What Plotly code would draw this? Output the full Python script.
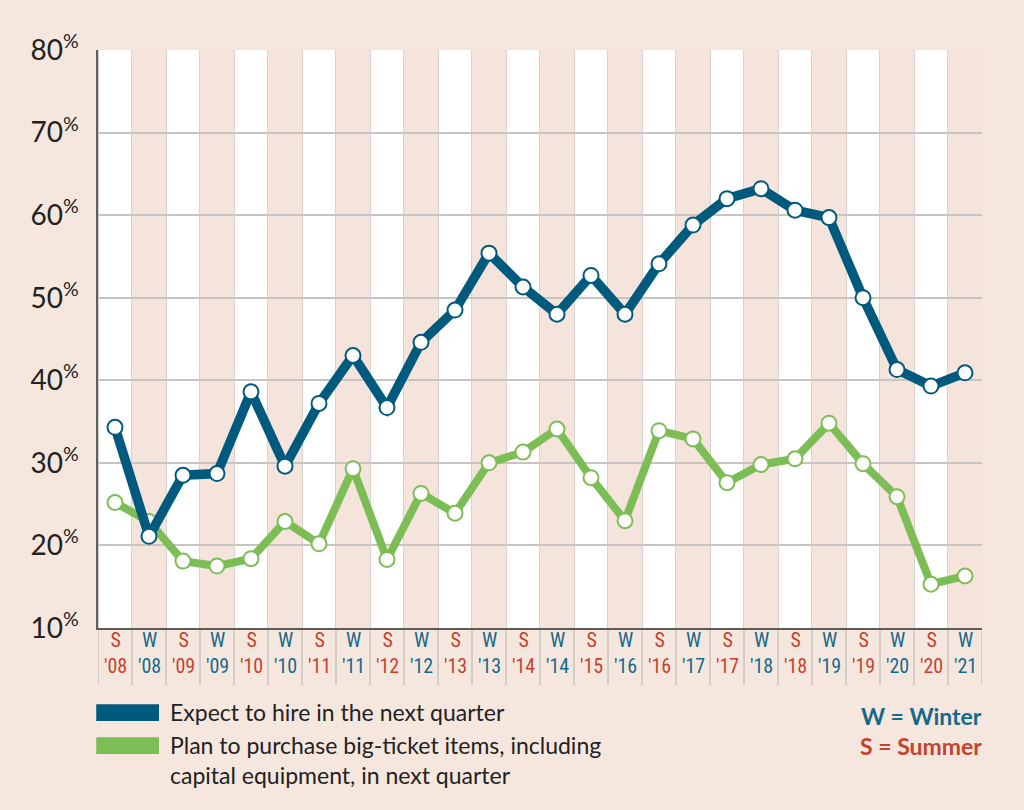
import plotly.graph_objects as go

seasons = ["S", "W", "S", "W", "S", "W", "S", "W", "S", "W", "S", "W", "S",
           "W", "S", "W", "S", "W", "S", "W", "S", "W", "S", "W", "S", "W"]
years = ["'08", "'08", "'09", "'09", "'10", "'10", "'11", "'11", "'12", "'12",
         "'13", "'13", "'14", "'14", "'15", "'16", "'16", "'17", "'17", "'18",
         "'18", "'19", "'19", "'20", "'20", "'21"]
hire = [34.3, 21.1, 28.5, 28.7, 38.6, 29.6, 37.2, 43.0, 36.7, 44.6, 48.5, 55.4, 51.3,
        48.0, 52.7, 48.0, 54.1, 58.8, 62.0, 63.2, 60.6, 59.7, 50.0, 41.3, 39.3, 40.9]
purchase = [25.2, 22.9, 18.1, 17.5, 18.4, 22.9, 20.2, 29.3, 18.3, 26.3, 23.9, 30.0, 31.3,
            34.1, 28.2, 23.0, 33.9, 32.9, 27.6, 29.8, 30.5, 34.8, 29.9, 25.9, 15.3, 16.3]
y_ticks = [10, 20, 30, 40, 50, 60, 70, 80]

BLUE = "#005a7d"
GREEN = "#7dbd55"
BG = "#f6e7de"
PINK = "#f5e4dc"
GRID = "#c9c3c1"
RED_TXT = "#c5432e"
BLUE_TXT = "#17698b"
TICK_FONT = "Liberation Sans Narrow, Roboto Condensed, Lato"

cats = [f"{s} {y}" for s, y in zip(seasons, years)]

fig = go.Figure()
fig.add_trace(go.Scatter(
    x=cats, y=purchase, mode="lines+markers",
    line=dict(color=GREEN, width=8),
    marker=dict(size=15, color="white", line=dict(color=GREEN, width=2)),
    name="Plan to purchase big-ticket items", showlegend=False))
fig.add_trace(go.Scatter(
    x=cats, y=hire, mode="lines+markers",
    line=dict(color=BLUE, width=9.5),
    marker=dict(size=15, color="white", line=dict(color=BLUE, width=2)),
    name="Expect to hire", showlegend=False))

shapes = []
# pink columns for winter periods
for i, s in enumerate(seasons):
    if s == "W":
        shapes.append(dict(type="rect", xref="x", yref="y", x0=i - 0.5, x1=i + 0.5,
                           y0=y_ticks[0], y1=y_ticks[-1], fillcolor=PINK,
                           line=dict(width=0), layer="below"))
# column separators extending below the axis
for i in range(len(cats) + 1):
    shapes.append(dict(type="line", xref="x", yref="paper", x0=i - 0.5, x1=i - 0.5,
                       y0=-0.099, y1=1, line=dict(color=GRID, width=1.5), layer="below"))
# legend swatches
shapes.append(dict(type="rect", xref="paper", yref="paper", x0=-0.002, x1=0.069,
                   y0=-0.132, y1=-0.161, fillcolor=BLUE, line=dict(width=0)))
shapes.append(dict(type="rect", xref="paper", yref="paper", x0=-0.002, x1=0.069,
                   y0=-0.189, y1=-0.218, fillcolor=GREEN, line=dict(width=0)))

annotations = []
# two-line category labels (season letter over year)
for c, s, y in zip(cats, seasons, years):
    col = RED_TXT if s == "S" else BLUE_TXT
    annotations.append(dict(xref="x", yref="paper", x=c, y=-0.043, text=f"{s}<br>{y}",
                            showarrow=False, xanchor="center", yanchor="middle",
                            font=dict(family=TICK_FONT, size=20, color=col)))

annotations += [
    dict(xref="paper", yref="paper", x=0.079, y=-0.146, xanchor="left", yanchor="middle",
         text="Expect to hire in the next quarter", showarrow=False,
         font=dict(family="Lato", size=23, color="#222222")),
    dict(xref="paper", yref="paper", x=0.079, y=-0.229, xanchor="left", yanchor="middle",
         text="Plan to purchase big-ticket items, including<br>capital equipment, in next quarter",
         showarrow=False, align="left",
         font=dict(family="Lato", size=23, color="#222222")),
    dict(xref="paper", yref="paper", x=1.002, y=-0.152, xanchor="right", yanchor="middle",
         text="<b>W = Winter</b>", showarrow=False,
         font=dict(family="Lato", size=23, color=BLUE_TXT)),
    dict(xref="paper", yref="paper", x=1.002, y=-0.204, xanchor="right", yanchor="middle",
         text="<b>S = Summer</b>", showarrow=False,
         font=dict(family="Lato", size=23, color=RED_TXT)),
]

fig.update_layout(
    width=1024, height=810,
    margin=dict(l=98, r=42, t=50, b=182),
    paper_bgcolor=BG, plot_bgcolor="white",
    shapes=shapes, annotations=annotations,
    showlegend=False,
    xaxis=dict(type="category", range=[-0.5, len(cats) - 0.5],
               showticklabels=False, showgrid=False, showline=True,
               linecolor="#5f5a58", linewidth=2, ticks="", fixedrange=True),
    yaxis=dict(range=[y_ticks[0], y_ticks[-1]], tickmode="array", tickvals=y_ticks,
               ticktext=[f"{v}<sup>%</sup>" for v in y_ticks],
               showgrid=True, gridcolor=GRID, gridwidth=1.5,
               showline=True, linecolor="#625d5b", linewidth=1.5,
               zeroline=False, ticks="", ticklabelstandoff=12,
               tickfont=dict(family="Lato", size=28, color="#222222"), fixedrange=True),
)

fig.write_html(
    "out.html",
    config={"displayModeBar": False},
    post_script="document.body.style.margin='0';document.body.style.background='" + BG + "';",
)
